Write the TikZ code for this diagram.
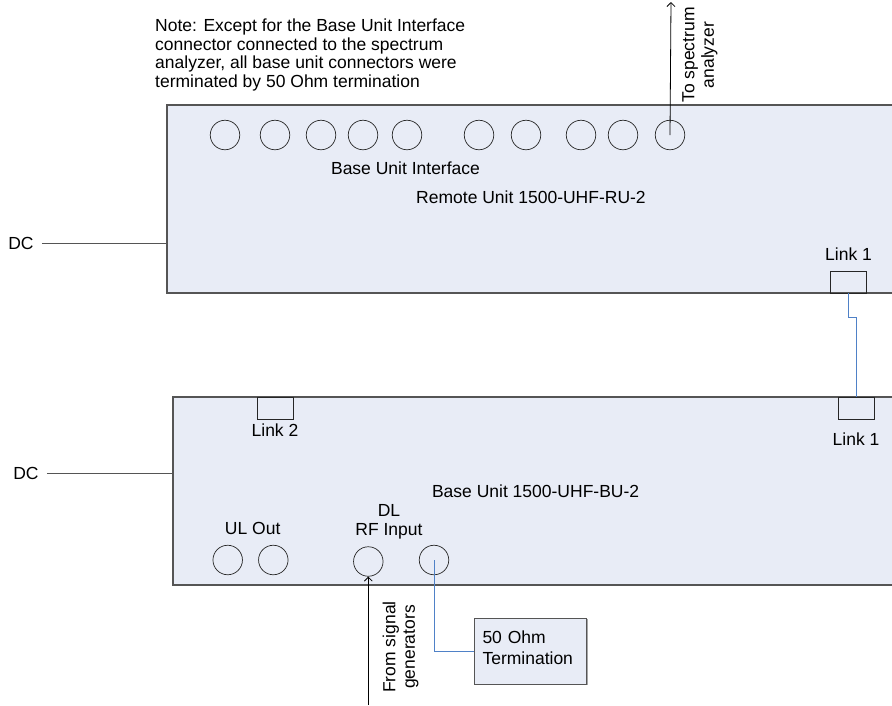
\documentclass[tikz,border=0pt]{standalone}
\usepackage{fontspec}
\setmainfont{Liberation Sans}
\usepackage{xcolor}
\usetikzlibrary{
  calc,
  positioning,
  arrows.meta,
  shadows
}
\definecolor{unitfill}{RGB}{232,236,246}
\definecolor{linkblue}{RGB}{79,129,199}
\definecolor{edgegray}{RGB}{85,85,85}

\begin{document}
\begin{tikzpicture}[x=1pt, y=-1pt, >={Straight Barb[length=4pt,width=8pt]}]
  \tikzset{
    unit/.style={draw=edgegray, line width=1.3pt, fill=unitfill,
      minimum height=188pt, inner sep=0pt},
    port/.style={circle, draw=black!85, line width=0.7pt,
      minimum size=29.5pt, inner sep=0pt},
    linkbox/.style={draw=black!85, line width=0.8pt,
      minimum width=36pt, minimum height=22pt, inner sep=0pt},
    lbl/.style={inner sep=0pt, font=\fontsize{17.5}{19.5}\selectfont},
    dcline/.style={draw=edgegray, line width=0.9pt},
    bluelink/.style={draw=linkblue, line width=0.9pt},
    % every node/.style={font=\large}
  }

  \useasboundingbox (0,0) rectangle (892,705);
  \clip (0,0) rectangle (892,705);

  % remote unit
  \node[unit, minimum width=793pt] (ru) at (563.5,199) {};
  \foreach \x [count=\i] in {225,275,321,363,407,479,526,581,623,670}
    \node[port] (rp\i) at (\x,135) {};
  \node[lbl] (bui) at (405.5,168) {Base Unit Interface};
  \node[lbl] (rulbl) at (531,197) {Remote Unit 1500-UHF-RU-2};
  \node[linkbox] (rlink) at (848.5,282) {};
  \node[lbl, above=10pt of rlink] (rlinklbl) {Link 1};

  \node[lbl] (dcru) at (21,243) {DC};
  \draw[dcline] ([xshift=8pt]dcru.east) -- (dcru.east -| ru.west);

  \node[lbl, align=left, anchor=west,
    font=\fontsize{17.5}{18.5}\selectfont] (note) at (155,55)
    {Note: Except for the Base Unit Interface\\
     connector connected to the spectrum\\
     analyzer, all base unit connectors were\\
     terminated by 50 Ohm termination};

  \coordinate (tosa) at (671,2);
  \draw[->, line width=0.8pt] (rp10.center) -- (tosa);
  \node[lbl, rotate=90, align=center] (salbl) at (700,55)
    {To spectrum\\analyzer};

  % base unit
  \node[unit, minimum width=787pt] (bu) at (566.5,491) {};
  \node[linkbox] (blink) at (856,408) {};
  \node[lbl, below=13pt of blink] (blinklbl) {Link 1};
  \node[linkbox] (blinktwo) at (275,408) {};
  \node[lbl, below=4pt of blinktwo] (blinktwolbl) {Link 2};
  \node[lbl] (bulbl) at (535.6,491) {Base Unit 1500-UHF-BU-2};

  \node[port] (ulone) at (227.7,560) {};
  \node[port] (ultwo) at (273.3,560) {};
  \node[port] (dlin) at (368.3,561.5) {};
  \node[port] (bfour) at (434,560) {};
  \node[lbl] (ullbl) at (252.7,528) {UL Out};
  \node[lbl, align=center] (dllbl) at (389,522) {DL\\RF Input};

  \node[lbl] (dcbu) at (26,473) {DC};
  \draw[dcline] ([xshift=8pt]dcbu.east) -- (dcbu.east -| bu.west);

  \coordinate (fromsg) at (368.3,705);
  \draw[->, line width=0.8pt] (fromsg) -- (dlin.south);
  \node[lbl, rotate=90, align=center] (sglbl) at (400.5,647)
    {From signal\\generators};

  \node[draw=edgegray, fill=unitfill, line width=0.8pt, align=left,
    text width=96pt, text depth=28pt, inner xsep=8pt, minimum height=66pt,
    font=\fontsize{17.5}{21}\selectfont,
    general shadow={fill=gray!70, shadow xshift=1.3pt, shadow yshift=-1.3pt}]
    (term) at (530.5,651) {50 Ohm\\Termination};

  % blue links
  \draw[bluelink] (rlink.south) -- ++(0,24) -| (blink.north);
  \draw[bluelink] (bfour.center) |- (term.west);
\end{tikzpicture}
\end{document}
